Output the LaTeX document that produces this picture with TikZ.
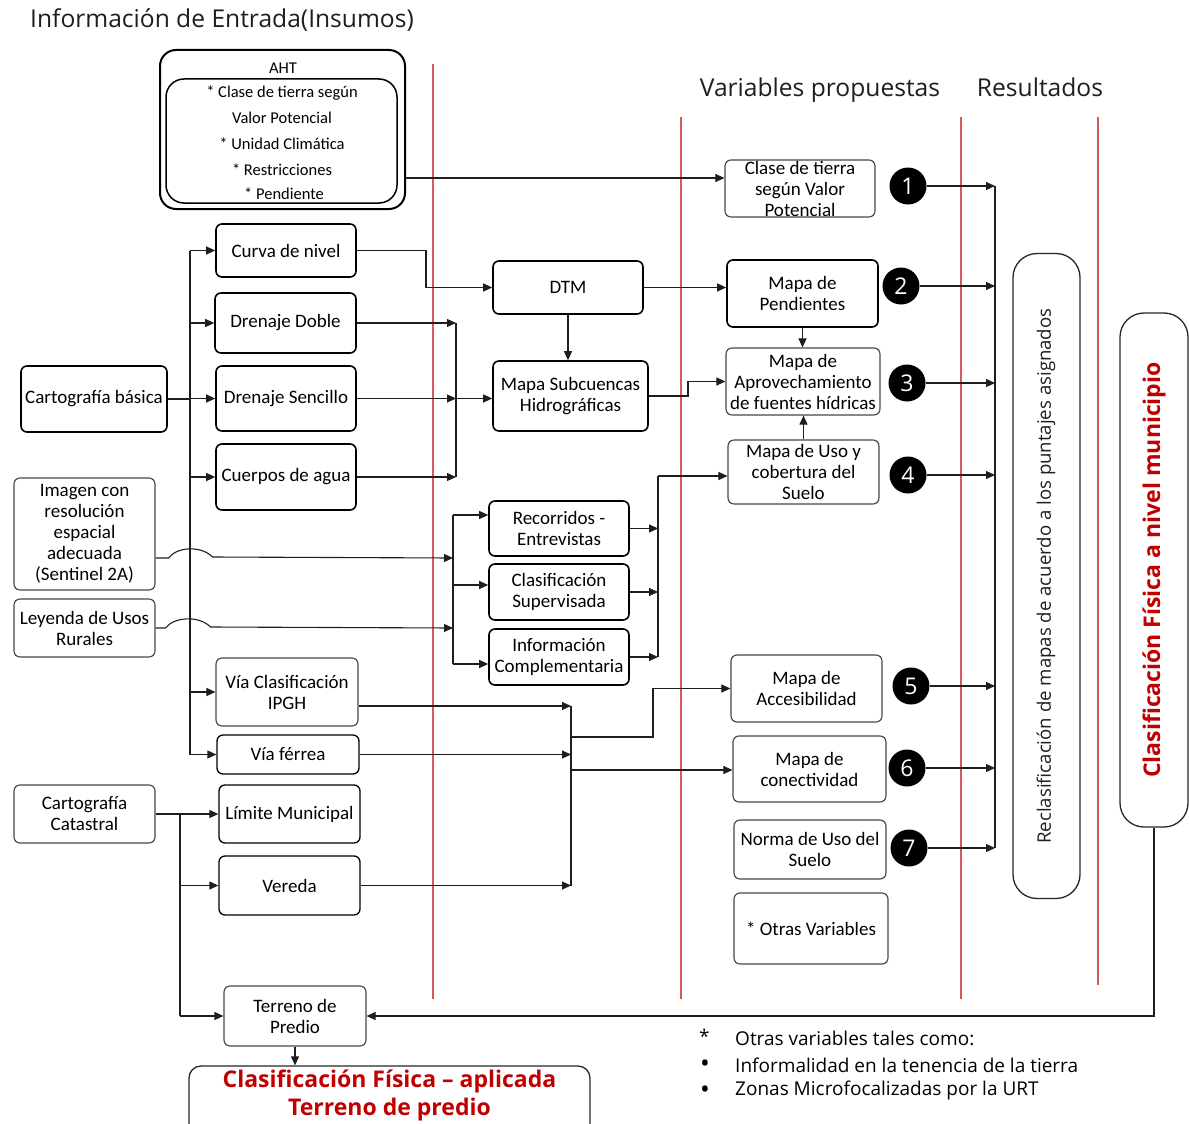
\documentclass[tikz,border=0pt]{standalone}
\usepackage{fontspec}
\setmainfont{Carlito}
\newfontfamily\hdfont{Open Sans}
\usetikzlibrary{arrows.meta,calc}
\definecolor{redtxt}{RGB}{192,0,0}
\definecolor{redrulecol}{RGB}{215,90,90}
\definecolor{inkgray}{RGB}{30,30,30}

\begin{document}
\begin{tikzpicture}[x=1pt,y=-1pt,
  box/.style={draw=black, line width=1.6pt, rounded corners=6pt, align=center,
    inner sep=0pt, font=\fontsize{19}{21}\selectfont},
  lbox/.style={box, draw=black!72, line width=1.15pt},
  conn/.style={line width=1.1pt, draw=inkgray},
  arr/.style={conn, -{Triangle[length=9pt,width=8pt]}},
  redrule/.style={draw=redrulecol, line width=1.2pt},
  num/.style={circle, fill=black, text=white, minimum size=37pt, inner sep=0pt,
    font=\hdfont\fontsize{23}{23}\selectfont},
  hdr/.style={font=\hdfont\fontsize{24.6}{28}\selectfont, text=inkgray, inner sep=0pt},
  ahttxt/.style={font=\fontsize{16.5}{18}\selectfont, inner sep=0pt},
  foot/.style={font=\hdfont\fontsize{19}{22}\selectfont, text=black, inner sep=0pt, anchor=west},
  bullet/.style={font=\hdfont\fontsize{26}{26}\selectfont, text=black, inner sep=0pt, anchor=west},
  redbold/.style={font=\hdfont\bfseries\fontsize{23}{26}\selectfont, text=redtxt, inner sep=0pt},
]
\useasboundingbox (0,0) rectangle (1189,1124);

% headings
\node[hdr, anchor=west] (title) at (30,20) {Información de Entrada(Insumos)};
\node[hdr] (hvar) at (820,90) {Variables propuestas};
\node[hdr] (hres) at (1040,87) {Resultados};

% column rules
\draw[redrule] (433,64) -- (433,999);
\draw[redrule] (681,117) -- (681,999);
\draw[redrule] (961,117) -- (961,999);
\draw[redrule] (1098,117) -- (1098,985);

% AHT block
\node[box, minimum width=245pt, minimum height=159pt, rounded corners=16pt, line width=2pt] (aht) at (282.5,129.5) {};
\node[box, minimum width=231pt, minimum height=124pt, rounded corners=18pt, line width=1.5pt] (ahtin) at (281.5,141) {};
\node[ahttxt] (ahtlbl) at (283,68) {AHT};
\node[ahttxt] (aht1) at (282,93) {* Clase de tierra según};
\node[ahttxt] (aht2) at (282,118) {Valor Potencial};
\node[ahttxt] (aht3) at (282,144) {* Unidad Climática};
\node[ahttxt] (aht4) at (282,170) {* Restricciones};
\node[ahttxt] (aht5) at (284,194) {* Pendiente};

% source boxes
\node[box, minimum width=146pt, minimum height=66pt] (cartbas) at (94,399) {Cartografía básica};
\node[lbox, minimum width=141pt, minimum height=112pt] (imagen) at (84.5,534) {Imagen con\\resolución\\espacial\\adecuada\\(Sentinel 2A)};
\node[lbox, minimum width=141pt, minimum height=58pt] (leyenda) at (84.5,628) {Leyenda de Usos\\Rurales};
\node[lbox, minimum width=141pt, minimum height=58pt] (catastral) at (84.5,814) {Cartografía\\Catastral};

% input layers
\node[box, minimum width=140pt, minimum height=53pt] (curva) at (286,250.5) {Curva de nivel};
\node[box, minimum width=141pt, minimum height=60pt] (ddoble) at (285.5,323) {Drenaje Doble};
\node[box, minimum width=140pt, minimum height=65pt] (dsenc) at (286,398.5) {Drenaje Sencillo};
\node[box, minimum width=140pt, minimum height=66pt] (cuerpos) at (286,477) {Cuerpos de agua};
\node[lbox, minimum width=142pt, minimum height=68pt] (viacl) at (287,692) {Vía Clasificación\\IPGH};
\node[box, minimum width=142pt, minimum height=39pt, line width=1.3pt] (viafer) at (288,754.5) {Vía férrea};
\node[box, minimum width=141pt, minimum height=58pt, line width=1.3pt] (limite) at (289.5,814) {Límite Municipal};
\node[box, minimum width=141pt, minimum height=59pt, line width=1.3pt] (vereda) at (289.5,885.5) {Vereda};
\node[lbox, minimum width=142pt, minimum height=60pt] (terreno) at (295,1016) {Terreno de\\Predio};

% processing
\node[box, minimum width=150pt, minimum height=53pt] (dtm) at (568,287.5) {DTM};
\node[box, minimum width=155pt, minimum height=70pt] (subc) at (570.5,396) {Mapa Subcuencas\\Hidrográficas};
\node[box, minimum width=140pt, minimum height=55pt] (recorr) at (559,528.5) {Recorridos -\\Entrevistas};
\node[box, minimum width=140pt, minimum height=56pt] (clsup) at (559,592) {Clasificación\\Supervisada};
\node[box, minimum width=140pt, minimum height=56pt] (infoc) at (559,657) {Información\\Complementaria};

% proposed variables
\node[lbox, minimum width=150pt, minimum height=57pt] (clase) at (800,188.5) {Clase de tierra\\según Valor\\Potencial};
\node[box, minimum width=151pt, minimum height=67pt] (pend) at (802.5,293.5) {Mapa de\\Pendientes};
\node[lbox, minimum width=154pt, minimum height=67pt] (aprov) at (803,381.5) {Mapa de\\Aprovechamiento\\de fuentes hídricas};
\node[lbox, minimum width=151pt, minimum height=64pt] (uso) at (803.5,472) {Mapa de Uso y\\cobertura del\\Suelo};
\node[lbox, minimum width=151pt, minimum height=67pt] (acces) at (806.5,688.5) {Mapa de\\Accesibilidad};
\node[lbox, minimum width=153pt, minimum height=66pt] (conect) at (809.5,769) {Mapa de\\conectividad};
\node[lbox, minimum width=152pt, minimum height=59pt] (norma) at (810,849.5) {Norma de Uso del\\Suelo};
\node[lbox, minimum width=154pt, minimum height=71pt] (otras) at (811,928.5) {* Otras Variables};

% numbered markers
\node[num] (n1) at (908,186) {1};
\node[num] (n2) at (901,286) {2};
\node[num] (n3) at (907,383) {3};
\node[num] (n4) at (908,475) {4};
\node[num] (n5) at (911,686) {5};
\node[num] (n6) at (907,768) {6};
\node[num] (n7) at (909,848) {7};

% results
\node[box, minimum width=67pt, minimum height=645pt, rounded corners=24pt, line width=1.3pt, draw=black!85] (reclas) at (1046.5,576) {};
\node[rotate=90, font=\hdfont\fontsize{18.6}{20}\selectfont, text=inkgray, inner sep=0pt] (reclastxt) at (1046,576)
  {Reclasificación de mapas de acuerdo a los puntajes asignados};
\node[box, minimum width=68pt, minimum height=514pt, rounded corners=24pt, line width=1.3pt, draw=black!85] (clasmun) at (1154,570) {};
\node[redbold, rotate=90] (clasmuntxt) at (1154,570) {Clasificación Física a nivel municipio};

\node[box, minimum width=401pt, minimum height=80pt, rounded corners=12pt, line width=1.3pt, draw=black!85] (final) at (389.5,1106) {};
\node[redbold] (final1) at (389.5,1081) {Clasificación Física – aplicada};
\node[redbold] (final2) at (389.5,1110) {Terreno de predio};

% footnote
\node[foot] (fstar) at (699,1036) {*};
\node[foot] (ftxt1) at (735,1038) {Otras variables tales como:};
\node[bullet] (fb1) at (700,1066) {•};
\node[foot] (ftxt2) at (735,1065) {Informalidad en la tenencia de la tierra};
\node[bullet] (fb2) at (700,1092) {•};
\node[foot] (ftxt3) at (735,1091) {Zonas Microfocalizadas por la URT};

% ---------- connectors ----------
% AHT to land class
\coordinate (ahtout) at ([yshift=-48.5pt]aht.east);
\draw[arr] (ahtout) -- (ahtout -| clase.west);

% basic cartography trunk
\coordinate (tk) at (190,0);
\draw[conn] (cartbas.east) -- (cartbas.east -| tk);
\draw[conn] (curva.west -| tk) -- (viafer.west -| tk);
\foreach \b in {curva,ddoble,dsenc,cuerpos,viacl,viafer}
  \draw[arr] (\b.west -| tk) -- (\b.west);

% contour lines to DTM
\coordinate (cb) at (426,0);
\draw[arr] (curva.east) -- (curva.east -| cb) |- (dtm.west);

% drainage collector
\coordinate (db) at (456,0);
\foreach \b in {ddoble,dsenc,cuerpos}
  \draw[arr] (\b.east) -- (\b.east -| db);
\draw[conn] (ddoble.east -| db) -- (cuerpos.east -| db);
\draw[arr] (dsenc.east -| db) -- (dsenc.east -| subc.west);

% DTM links
\draw[arr] (dtm.south) -- (dtm.south |- subc.north);
\draw[arr] (dtm.east) -- (dtm.east -| pend.west);
\coordinate (sb) at (688,0);
\draw[arr] (subc.east) -- (subc.east -| sb) |- (aprov.west);
\draw[arr] (pend.south) -- (pend.south |- aprov.north);
\draw[arr] (uso.north) -- (uso.north |- aprov.south);

% imagery and legend with line hops over the trunk
\coordinate (r1) at (453,515);
\coordinate (r2) at (453,585);
\coordinate (r3) at (453,664);
\coordinate (imgout) at ([yshift=-24pt]imagen.east);
\draw[arr] (imgout) -- ++(13,0) .. controls +(8,-11) and +(-12,-12) .. ++(44,-1) -- (imgout -| r1);
\draw[arr] (leyenda.east) -- ++(10,0) .. controls +(8,-11) and +(-12,-12) .. ++(45,-1) -- (leyenda.east -| r1);
\draw[conn] (r1) -- (r3);
\draw[arr] (r1) -- (r1 -| recorr.west);
\draw[arr] (r2) -- (r2 -| clsup.west);
\draw[arr] (r3) -- (r3 -| infoc.west);

% land use collector
\coordinate (u0) at (658,476);
\foreach \b in {recorr,clsup,infoc}
  \draw[arr] (\b.east) -- (\b.east -| u0);
\draw[conn] (u0) -- (infoc.east -| u0);
\draw[arr] (u0) -- (u0 -| uso.west);

% roads collector
\coordinate (vb) at (571,0);
\coordinate (viaout) at ([yshift=-14pt]viacl.east);
\draw[arr] (viaout) -- (viaout -| vb);
\draw[arr] (viafer.east) -- (viafer.east -| vb);
\draw[arr] (vereda.east) -- (vereda.east -| vb);
\draw[conn] (viaout -| vb) -- (vereda.east -| vb);
\coordinate (b1) at (571,737);
\coordinate (b1x) at (653,0);
\draw[arr] (b1) -- (b1 -| b1x) |- (acces.west);
\coordinate (b2) at (571,770);
\draw[arr] (b2) -- (b2 -| conect.west);

% cadastral trunk
\coordinate (ck) at (180,0);
\draw[conn] (catastral.east -| ck) -- (terreno.west -| ck);
\draw[arr] (catastral.east) -- (limite.west);
\draw[arr] (vereda.west -| ck) -- (vereda.west);
\draw[arr] (terreno.west -| ck) -- (terreno.west);

% parcel result
\draw[arr] (terreno.south) -- (terreno.south |- final.north);
\draw[arr] (clasmun.south) |- (terreno.east);

% numbered variables to reclassification
\coordinate (ob) at (995,0);
\foreach \n in {n1,n2,n3,n4,n5,n6,n7}
  \draw[arr] (\n.east) -- (\n.east -| ob);
\draw[conn] (n1.east -| ob) -- (n7.east -| ob);
\end{tikzpicture}
\end{document}
